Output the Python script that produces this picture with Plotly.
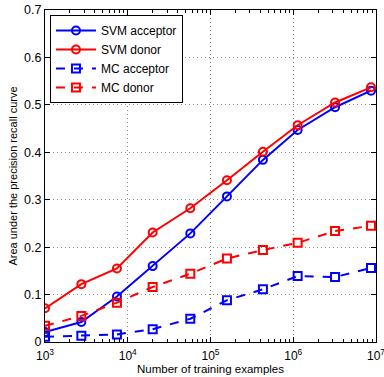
import plotly.graph_objects as go

x_examples = [1000, 2750, 7400, 20000, 57000, 158000, 430000, 1130000, 3200000, 8700000]
svm_acceptor = [0.021, 0.042, 0.096, 0.160, 0.229, 0.307, 0.384, 0.447, 0.495, 0.530]
svm_donor = [0.071, 0.122, 0.155, 0.231, 0.282, 0.341, 0.401, 0.457, 0.505, 0.537]
mc_acceptor = [0.011, 0.013, 0.016, 0.027, 0.049, 0.088, 0.111, 0.139, 0.137, 0.156]
mc_donor = [0.034, 0.055, 0.083, 0.116, 0.144, 0.176, 0.194, 0.209, 0.234, 0.245]

x_tickvals = [1e3, 1e4, 1e5, 1e6, 1e7]
x_ticktext = ["10<sup>3</sup>", "10<sup>4</sup>", "10<sup>5</sup>", "10<sup>6</sup>", "10<sup>7</sup>"]
y_tickvals = [0, 0.1, 0.2, 0.3, 0.4, 0.5, 0.6, 0.7]
y_ticktext = ["0", "0.1", "0.2", "0.3", "0.4", "0.5", "0.6", "0.7"]

minor_vals = [k * 10 ** d for d in range(3, 7) for k in range(2, 10)]

fig = go.Figure()
series = [
    ("SVM acceptor", svm_acceptor, "#0000ff", "solid", "circle-open"),
    ("SVM donor", svm_donor, "#ff0000", "solid", "circle-open"),
    ("MC acceptor", mc_acceptor, "#0000ff", "dash", "square-open"),
    ("MC donor", mc_donor, "#ff0000", "dash", "square-open"),
]
for name, ys, col, dash, sym in series:
    fig.add_trace(go.Scatter(
        x=x_examples, y=ys, name=name, mode="lines+markers",
        line=dict(color=col, width=2, dash=dash),
        marker=dict(symbol=sym, size=8, color=col, line=dict(width=2, color=col)),
    ))

font_family = "Liberation Sans, Arial, sans-serif"
grid_color = "#8a8a8a"
fig.update_layout(
    width=384, height=377,
    margin=dict(l=45, r=8, t=10, b=35),
    paper_bgcolor="white", plot_bgcolor="white",
    font=dict(family=font_family, size=12, color="black"),
    showlegend=True,
    legend=dict(
        x=0.015, y=0.985, xanchor="left", yanchor="top",
        bgcolor="white", bordercolor="black", borderwidth=1,
        font=dict(size=12), tracegroupgap=0, itemwidth=40,
    ),
    xaxis=dict(
        type="log", range=[3, 7], automargin=False,
        tickvals=x_tickvals, ticktext=x_ticktext,
        ticks="inside", ticklen=5, tickcolor="black",
        showline=True, linecolor="black", linewidth=1, mirror="ticks",
        showgrid=True, gridcolor=grid_color, griddash="1px,3px", gridwidth=1,
        zeroline=False,
        title=dict(text="Number of training examples", font=dict(size=11.5), standoff=2),
        tickfont=dict(size=12),
        ticklabelstandoff=3,
        ticklabeloverflow="allow",
        minor=dict(tickvals=minor_vals, ticks="inside", ticklen=3, tickcolor="black", showgrid=False),
    ),
    yaxis=dict(
        range=[0, 0.7], automargin=False,
        tickvals=y_tickvals, ticktext=y_ticktext,
        ticks="inside", ticklen=5, tickcolor="black",
        showline=True, linecolor="black", linewidth=1, mirror="ticks",
        showgrid=True, gridcolor=grid_color, griddash="1px,3px", gridwidth=1,
        zeroline=False,
        title=dict(text="Area under the precision recall curve", font=dict(size=11), standoff=4),
        tickfont=dict(size=12.5),
    ),
)

fig.write_html("out.html")
